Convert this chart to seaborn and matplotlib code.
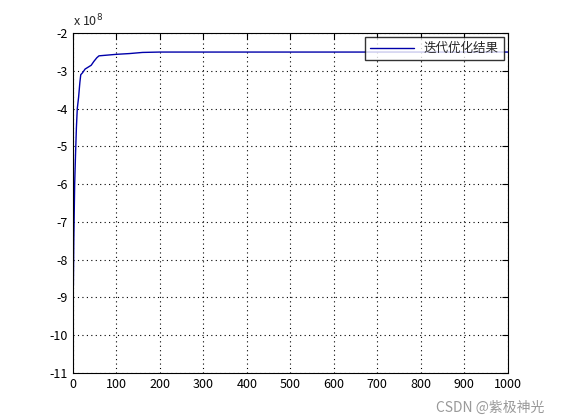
import numpy as np
import pandas as pd
import matplotlib
matplotlib.use('Agg')
import matplotlib.pyplot as plt
import matplotlib.ticker as mticker
import seaborn as sns

sns.set_style('white')
plt.rcParams['font.family'] = ['Noto Sans CJK SC', 'DejaVu Sans']
plt.rcParams['axes.unicode_minus'] = False

# 迭代次数与目标值
iters = [1, 2, 4, 6, 8, 10, 13, 16, 18, 22, 28, 35, 42, 48, 55, 60, 80, 100, 130, 160, 200, 300, 500, 700, 1000]
values = [-8.7e8, -7.5e8, -6.0e8, -5.2e8, -4.5e8, -4.0e8, -3.7e8, -3.3e8, -3.1e8, -3.05e8, -2.95e8,
          -2.9e8, -2.85e8, -2.75e8, -2.65e8, -2.6e8, -2.58e8, -2.56e8, -2.54e8, -2.51e8, -2.5e8,
          -2.5e8, -2.5e8, -2.5e8, -2.5e8]
df = pd.DataFrame({'iter': iters, 'value': values})

fig = plt.figure(figsize=(5.61, 4.2), dpi=100)
ax = fig.add_axes([0.13, 0.112, 0.775, 0.809])
sns.lineplot(data=df, x='iter', y='value', ax=ax, color='#0000aa', linewidth=1, label='迭代优化结果')

ax.set_xlim(0, 1000)
ax.set_ylim(-11e8, -2e8)
ax.set_xticks(np.arange(0, 1001, 100))
ax.set_yticks(np.arange(-11e8, -1.9e8, 1e8))
ax.yaxis.set_major_formatter(mticker.FuncFormatter(lambda v, p: f'{v/1e8:.0f}'))
ax.set_xlabel('')
ax.set_ylabel('')
ax.tick_params(direction='in', length=4, labelsize=9, top=True, right=True, colors='black')
ax.grid(True, linestyle=(0, (1, 3)), color='black', linewidth=0.8)
for s in ax.spines.values():
    s.set_color('black')
    s.set_linewidth(0.8)
ax.text(0.0, 1.01, 'x 10$^8$', transform=ax.transAxes, fontsize=9, va='bottom')
leg = ax.legend(loc='upper right', fontsize=9, frameon=True, fancybox=False,
                borderaxespad=0.3, handlelength=3.5)
leg.get_frame().set_edgecolor('black')
fig.text(0.97, 0.02, 'CSDN @紫极神光', ha='right', fontsize=10, color='#999999')
fig.savefig('out.png', dpi=100)
